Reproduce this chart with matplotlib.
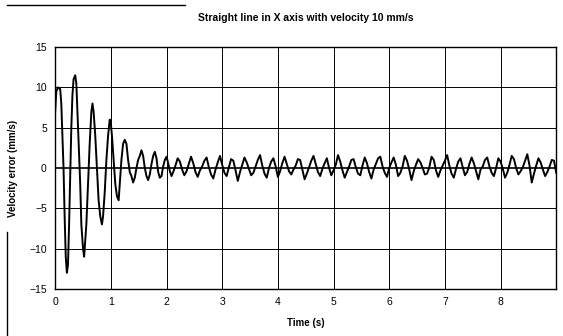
import numpy as np
import matplotlib
matplotlib.use('Agg')
import matplotlib.pyplot as plt
from matplotlib.lines import Line2D

plt.rcParams['font.family'] = ['Liberation Sans', 'DejaVu Sans']

# transient part (time in s, velocity error in mm/s)
t_trans = [0.00, 0.02, 0.05, 0.09, 0.11, 0.13, 0.15, 0.17, 0.19, 0.21,
           0.23, 0.25, 0.27, 0.29, 0.31, 0.33, 0.36, 0.38, 0.40, 0.43,
           0.45, 0.47, 0.50, 0.52, 0.54, 0.56, 0.59, 0.62, 0.65, 0.67,
           0.69, 0.72, 0.75, 0.78, 0.81, 0.84, 0.86, 0.89, 0.92, 0.95,
           0.98, 1.00, 1.02, 1.05, 1.08, 1.11, 1.14, 1.16, 1.19, 1.22,
           1.25, 1.28, 1.31, 1.34, 1.37, 1.40, 1.43, 1.46, 1.49, 1.52,
           1.55, 1.58, 1.61, 1.64, 1.67, 1.70, 1.73, 1.76, 1.79, 1.82,
           1.85, 1.88, 1.91, 1.94, 1.97, 2.00, 2.03, 2.06, 2.09, 2.12]
v_trans = [7.0, 9.5, 10.0, 9.8, 8.0, 4.0, 0.0, -6.0, -11.0, -13.0,
           -12.0, -7.0, -1.0, 5.0, 9.0, 11.0, 11.5, 10.5, 7.0, 2.0,
           -2.0, -7.0, -10.0, -11.0, -9.0, -7.0, -2.0, 3.0, 7.0, 8.0,
           7.0, 4.0, 0.0, -4.0, -6.0, -7.0, -6.0, -3.0, 1.0, 4.0,
           6.0, 5.5, 4.0, 1.0, -2.0, -3.5, -4.0, -2.0, 1.0, 3.0,
           3.5, 3.0, 1.0, -0.5, -1.0, -1.8, -1.2, 0.0, 1.0, 1.5,
           2.2, 1.5, 0.0, -1.0, -1.5, -0.8, 0.5, 1.5, 2.0, 1.2,
           -0.5, -1.2, -1.0, 0.2, 1.0, 1.4, 0.6, -0.4, -1.0, -0.5]

# steady part, sampled every 0.04 s from 2.16 s
t_start = 2.16
dt = 0.04
v_steady = [0.3, 1.2, 0.8, -0.2, -0.9, -0.4,
            0.5, 1.4, 0.6, -0.5, -1.1, -0.3,
            0.2, 0.9, 1.3, 0.1, -0.8, -1.3,
            -0.2, 0.7, 1.5, 0.4, -0.6, -1.0,
            0.1, 1.1, 0.9, -0.3, -1.6, -0.5,
            0.4, 1.3, 0.7, -0.1, -0.9, -0.6,
            0.2, 1.0, 1.6, 0.3, -0.7, -1.2,
            0.0, 0.8, 1.2, 0.2, -1.1, -0.4,
            0.6, 1.4, 0.5, -0.4, -0.8, -0.2,
            0.3, 1.1, 1.0, -0.2, -1.4, -0.7,
            0.1, 0.9, 1.5, 0.5, -0.5, -1.0,
            -0.1, 0.6, 1.2, 0.0, -0.9, -0.3,
            0.4, 1.6, 0.8, -0.3, -1.2, -0.5,
            0.2, 1.0, 1.1, 0.1, -0.7, -0.9,
            0.3, 1.3, 0.6, -0.5, -1.3, -0.2,
            0.5, 1.2, 1.4, 0.2, -0.6, -1.1,
            0.0, 0.7, 1.3, 0.4, -1.0, -0.6,
            0.2, 1.5, 0.9, -0.2, -1.5, -0.4,
            0.4, 1.1, 0.7, 0.0, -0.8, -0.7,
            0.1, 1.4, 1.0, -0.3, -1.1, -0.3,
            0.3, 0.9, 1.6, 0.3, -0.7, -1.2,
            -0.1, 0.8, 1.2, 0.1, -0.9, -0.5,
            0.5, 1.3, 0.6, -0.4, -1.4, -0.2,
            0.2, 1.0, 1.3, 0.2, -0.6, -1.0,
            0.0, 1.2, 0.8, -0.1, -1.2, -0.6,
            0.4, 1.5, 1.1, 0.0, -0.8, -0.4,
            0.1, 0.9, 1.7, 0.3, -1.8, -0.7,
            0.3, 1.2, 0.7, -0.2, -1.0, -0.5,
            0.2, 1.0, 0.9, -0.6]

x_ticks = [0, 1, 2, 3, 4, 5, 6, 7, 8]
y_ticks = [-15, -10, -5, 0, 5, 10, 15]

t_steady = t_start + dt * np.arange(len(v_steady))
t = np.concatenate([t_trans, t_steady])
v = np.concatenate([v_trans, v_steady])

fig = plt.figure(figsize=(5.63, 3.36), dpi=100)
ax = fig.add_axes([0.098, 0.14, 0.89, 0.72])

for yt in y_ticks[1:-1]:
    ax.axhline(yt, color='black', lw=1.2 if yt == 0 else 0.7, zorder=1)
for xt in x_ticks[1:]:
    ax.axvline(xt, color='black', lw=0.7, zorder=1)

ax.plot(t, v, color='black', lw=1.4, zorder=3)

ax.set_xlim(0, 9)
ax.set_ylim(-15, 15)
ax.set_xticks(x_ticks)
ax.set_yticks(y_ticks)
ax.tick_params(length=0, labelsize=7.5, pad=6)
for s in ax.spines.values():
    s.set_linewidth(1.0)

ax.set_title('Straight line in X axis with velocity 10 mm/s',
             fontsize=7.5, fontweight='bold', pad=19)
ax.set_xlabel('Time (s)', fontsize=7, fontweight='bold', labelpad=8)
ax.set_ylabel('Velocity error (mm/s)', fontsize=7, fontweight='bold',
              labelpad=8)

# scan edge lines
fig.add_artist(Line2D([7 / 563, 185 / 563], [1 - 5 / 336, 1 - 5 / 336],
                      color='black', lw=1.0))
fig.add_artist(Line2D([7 / 563, 7 / 563], [0, 1 - 232 / 336],
                      color='black', lw=1.0))

fig.savefig('out.png', dpi=100)
